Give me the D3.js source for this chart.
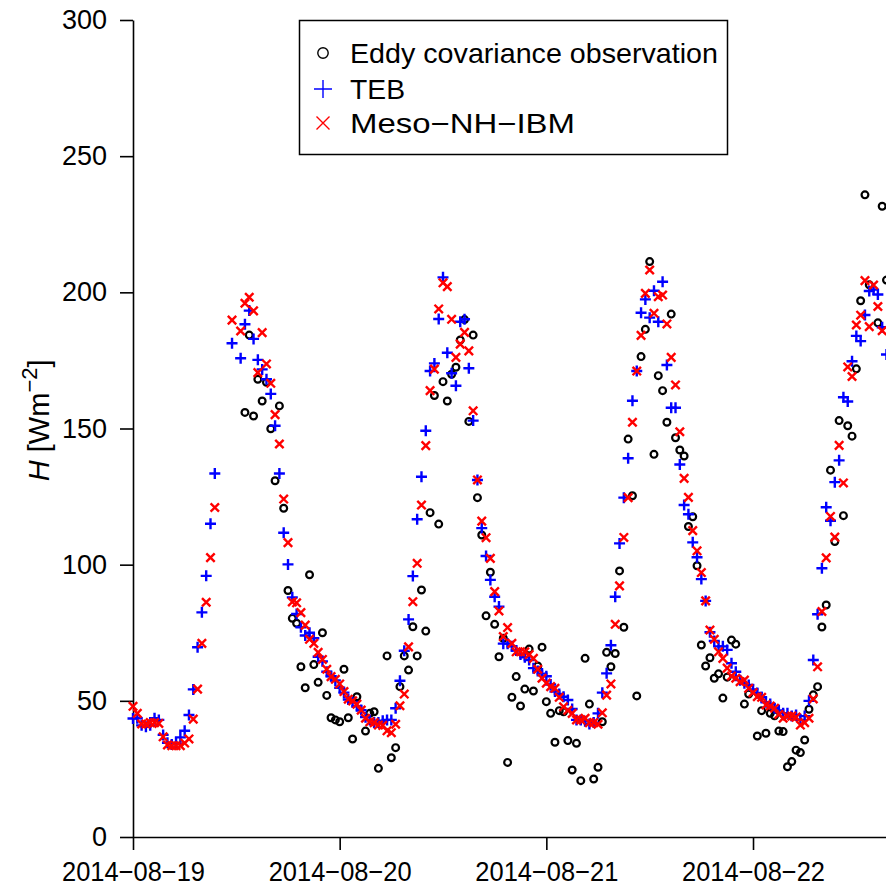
<!DOCTYPE html>
<html>
<head>
<meta charset="utf-8">
<script src="https://cdn.jsdelivr.net/npm/d3@7"></script>
<style>
  html, body { margin: 0; padding: 0; background: #fff; }
  svg { display: block; }
  text { font-family: "Liberation Sans", Arial, Helvetica, sans-serif; }
</style>
</head>
<body>
<script>
// Sensible heat flux H, half-hourly from 2014-08-19 00:00 UTC (null = no value)
const startTime = Date.UTC(2014, 7, 19, 0, 0);
const stepMinutes = 30;

const observed = [
  null, null, null, null, null, null, null, null, null, null,
  null, null, null, null, null, null, null, null, null, null,
  null, null, null, null, null, null, 155.9, 184.3, 154.6, 168.1,
  160.1, 167, 149.9, 130.8, 158.3, 120.7, 90.5, 80.3, 78.5, 62.5,
  54.8, 96.3, 63.3, 56.8, 75, 52, 43.8, 43, 42.3, 61.6,
  43.8, 36, 51.5, null, 38.9, 45.4, 46, 25.2, null, 66.5,
  29.1, 32.8, 55.2, 66.5, 61.3, 77.2, 66.5, 90.7, 75.6, 119.1,
  162.1, 114.9, 167.2, 160.1, 169.9, 172.5, 182.5, 190, 152.6, 184.3,
  124.6, 110.9, 81.2, 97.2, 78.1, 66.2, 73, 27.4, 51.3, 58.9,
  48.1, 54.3, 69, 53.6, 62.8, 69.7, 49.7, 45.4, 34.8, 46.4,
  46, 35.4, 24.6, 34.4, 20.7, 65.6, 48.8, 21.3, 25.6, 42.3,
  67.8, 62.5, 67.4, 97.7, 77, 146.1, 125.3, 51.8, 176.4, 186.4,
  211.3, 140.5, 169.4, 163.9, 152.3, 192, 146.6, 142.1, 139.9, 114,
  117.6, 99.6, 70.5, 62.8, 65.8, 58.3, 59.9, 51, 58.7, 72.3,
  70.8, null, 48.8, 52.5, null, 37.1, 46.4, 38.1, 45.4, 44.5,
  38.9, 38.7, 25.8, 27.7, 31.9, 31, 35.6, 46.9, 52.2, 55.2,
  77.1, 85.2, 134.7, 108.5, 152.9, 118, 151, 147.2, 171.9, 196.9,
  235.8, 202.8, null, 188.8, 231.6, 204.5
];

const teb = [
  43.5, 43.6, 41, 40.5, 41, 43.6, 43, 37.5, 34.6, 34,
  34.5, 36.6, 39, 44.8, 54.2, 69.7, 82.5, 95.9, 115, 133.5,
  null, null, null, 181.3, null, 175.8, 188.3, 193.3, 182.9, 175.2,
  171.7, 168.1, 162.7, 151, 133.5, 111.7, 100.1, 88, 81.9, 77,
  74, 75, 73, 66.2, 64.5, 60.7, 59, 57.5, 54.8, 53,
  50.5, 49.5, 48, 46.6, 44, 43, 42, 42, 42.7, 43,
  43, 47.3, 57.4, 68.4, 79.9, 95.8, 116.7, 132.3, 149.2, 171.1,
  173.9, 190.2, 205.5, 177.8, 170.3, 165.7, 189.2, 190.1, 172.1, 152.9,
  131.1, 113.4, 103.2, 94.4, 88.2, 84.6, 71, 71, 70, 68.5,
  67, 66, 65, 62, 61, 60, 59, 56, 53.4, 52.5,
  51.5, 50.3, 47, 43, 43, 42.5, 41.5, 42, 45.4, 53,
  60.1, 70.4, 88.2, 107.8, 124.6, 139.1, 160.2, 171.1, 192.5, 197.4,
  190.7, 200.6, 189.2, 203.9, 173.3, 157.6, 157.6, 136.8, 121.9, 118.5,
  108.2, 102.7, 94.7, 86.7, 75.2, 72, 70, 70, 68.7, 63.8,
  60.7, 57.6, 56.5, 55.8, 54.2, 52.9, 51.3, 49.5, 48.8, 47.3,
  46.5, 45.4, 45.4, 44.4, 44.8, 43, 44.4, 50, 65, 81.8,
  98.7, 121.1, 116.1, 130.3, 138.3, 161.5, 159.9, 174.7, 184, 182.1,
  191.7, 200.5, 201, 199.2, 187.2, 177.2
];

const mesoNH = [
  48, 45.4, 41.5, 41.5, 42, 42, 41.7, 36.8, 33.8, 33.5,
  33.5, 33.5, 34.5, 36, 43.3, 54.3, 71.1, 86.2, 102.6, 121,
  null, null, null, 189.8, null, 185.8, 196, 198.2, 193.2, 170.5,
  185.2, 173.7, 166.6, 155.1, 144.3, 124.1, 108.1, 86.3, 86, 82.4,
  77.8, 72.6, 71.1, 67.8, 65.2, 61.6, 58.9, 57.9, 56.2, 53.4,
  50.6, 50, 48.8, 46.6, 43.6, 42.3, 42, 41.1, 41, 39,
  38.3, 41.4, 48.2, 52.5, 69.8, 86.4, 100.5, 121.9, 143.7, 163.9,
  171.8, 193.9, 203.5, 202.1, 190.1, 176.1, 181, 185.3, 178.5, 156.5,
  131.1, 116, 109.9, 102.3, 90.1, 83, 73.6, 76.9, 71.1, 68,
  68, 68, 67, 65.6, 61.6, 58.3, 56.5, 55.2, 54.6, 51.3,
  47.8, 46.5, 45.4, 43, 43, 43.6, 42, 42, 41.4, 45.6,
  52.1, 56.2, 78.1, 92.2, 110, 124.6, 152.3, 171.1, 184.2, 199.6,
  208.2, 192.3, 198.4, 199, 188.4, 176.1, 166, 148.8, 131.7, 124.7,
  112.5, 105.1, 97.1, 86.7, 76, 72.6, 68, 65.6, 62, 59.1,
  58.3, 57, 57.6, 54.6, 53, 51.5, 51.3, 48.5, 48.1, 47.3,
  45, 43.6, 44.4, 44.4, 44, 41.1, 42, 43.6, 50.7, 62.5,
  82.8, 102.5, 117.7, 110.1, 143.8, 130, 172.6, 169.1, 188, 191.6,
  204.3, 187.4, 202.7, 194.8, 185.9, null
];

const yTicks = [0, 50, 100, 150, 200, 250, 300];
const xTickDates = ["2014-08-19", "2014-08-20", "2014-08-21", "2014-08-22"];
const seriesNames = ["Eddy covariance observation", "TEB", "Meso\u2212NH\u2212IBM"];

const W = 886, H = 889;
const FS = 27;

const svg = d3.select("body").append("svg")
  .attr("width", W).attr("height", H)
  .attr("viewBox", `0 0 ${W} ${H}`);

const parseDay = d3.utcParse("%Y-%m-%d");
const timeOf = i => new Date(startTime + i * stepMinutes * 60000);

const x = d3.scaleUtc()
  .domain([parseDay("2014-08-19"), parseDay("2014-08-23")])
  .range([133, 133 + 4 * 206.67]);
const y = d3.scaleLinear().domain([0, 300]).range([837, 20]);

// axes
const xAxis = d3.axisBottom(x)
  .tickValues(xTickDates.map(parseDay))
  .tickFormat(d => d3.utcFormat("%Y-%m-%d")(d).replace(/-/g, "\u2212"))
  .tickSize(13).tickSizeOuter(0).tickPadding(12);
const yAxis = d3.axisLeft(y)
  .tickValues(yTicks)
  .tickFormat(d3.format("d"))
  .tickSize(13).tickSizeOuter(0).tickPadding(13);

const gx = svg.append("g").attr("transform", `translate(0,${y(0)})`).call(xAxis);
const gy = svg.append("g").attr("transform", `translate(${x.range()[0]},0)`).call(yAxis);
[gx, gy].forEach(g => {
  g.select(".domain").attr("stroke", "#000").attr("stroke-width", 1.6);
  g.selectAll(".tick line").attr("stroke", "#000").attr("stroke-width", 1.6);
  g.selectAll(".tick text").attr("fill", "#000")
    .style("font-size", FS + "px")
    .style("font-family", '"Liberation Sans", Arial, sans-serif');
});
gx.selectAll(".tick text").attr("textLength", 143).attr("lengthAdjust", "spacingAndGlyphs");

// y-axis title
const yt = svg.append("text")
  .attr("transform", `translate(49,${y(153)}) rotate(-90)`)
  .attr("text-anchor", "middle")
  .style("font-size", "29px")
  .attr("fill", "#000");
yt.append("tspan").attr("font-style", "italic").text("H");
yt.append("tspan").text(" [Wm");
yt.append("tspan").attr("baseline-shift", "super").style("font-size", "22px").text("\u22122");
yt.append("tspan").text("]");

// marker shapes
const plusPath = (cx, cy, s) => `M${cx - s},${cy}H${cx + s}M${cx},${cy - s}V${cy + s}`;
const timesPath = (cx, cy, s) => `M${cx - s},${cy - s}L${cx + s},${cy + s}M${cx - s},${cy + s}L${cx + s},${cy - s}`;

const pts = arr => arr.map((v, i) => ({ t: timeOf(i), v })).filter(d => d.v != null);

const plot = svg.append("g");

plot.append("g").selectAll("circle")
  .data(pts(observed)).join("circle")
  .attr("cx", d => x(d.t)).attr("cy", d => y(d.v))
  .attr("r", 3.4)
  .attr("fill", "none").attr("stroke", "#000").attr("stroke-width", 2.2);

plot.append("g").selectAll("path")
  .data(pts(teb)).join("path")
  .attr("d", d => plusPath(x(d.t), y(d.v), 5.5))
  .attr("fill", "none").attr("stroke", "#0000ff").attr("stroke-width", 2.4);

plot.append("g").selectAll("path")
  .data(pts(mesoNH)).join("path")
  .attr("d", d => timesPath(x(d.t), y(d.v), 4.2))
  .attr("fill", "none").attr("stroke", "#ff0000").attr("stroke-width", 2.4);

// legend
const lg = svg.append("g");
lg.append("rect")
  .attr("x", 299.5).attr("y", 20.5).attr("width", 428).attr("height", 134)
  .attr("fill", "#fff").attr("stroke", "#000").attr("stroke-width", 1.5);

const rowY = [53, 89, 123];
const labelWidths = [368, 55, 225];
const symX = 323;
lg.append("circle").attr("cx", symX).attr("cy", rowY[0]).attr("r", 5.2)
  .attr("fill", "none").attr("stroke", "#000").attr("stroke-width", 1.4);
lg.append("path").attr("d", plusPath(symX, rowY[1], 9))
  .attr("fill", "none").attr("stroke", "#0000ff").attr("stroke-width", 1.4);
lg.append("path").attr("d", timesPath(symX, rowY[2], 6.5))
  .attr("fill", "none").attr("stroke", "#ff0000").attr("stroke-width", 1.4);

lg.selectAll("text.lab")
  .data(seriesNames).join("text")
  .attr("class", "lab")
  .attr("x", 350).attr("y", (d, i) => rowY[i])
  .attr("dy", "0.36em")
  .style("font-size", "28px")
  .attr("textLength", (d, i) => labelWidths[i])
  .attr("lengthAdjust", "spacingAndGlyphs")
  .attr("fill", "#000")
  .text(d => d);
</script>
</body>
</html>
